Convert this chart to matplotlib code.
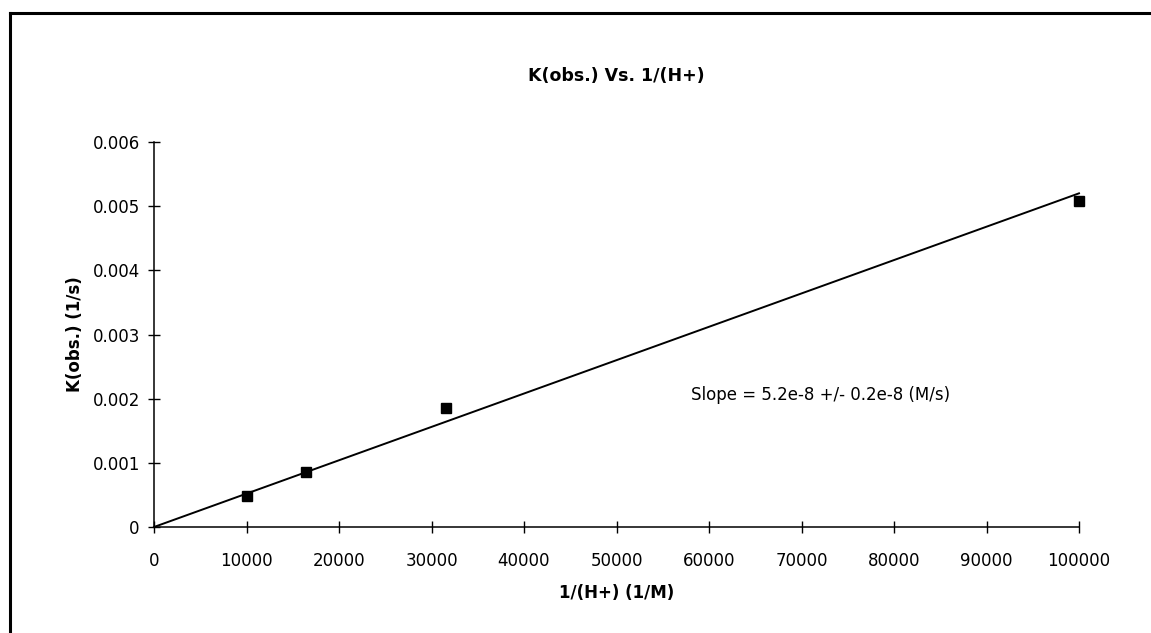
import matplotlib
matplotlib.use("Agg")
import matplotlib.pyplot as plt
from matplotlib.lines import Line2D

plt.rcParams['font.family'] = ['DejaVu Sans']

# Measured rate constants against inverse proton concentration
inv_h = [10000, 16450, 31600, 100000]
k_obs = [0.00049, 0.00086, 0.00186, 0.00508]

# Linear fit through the origin
slope = 5.2e-8
fit_x = [0, 100000]
fit_y = [slope * x for x in fit_x]

x_ticks = [0, 10000, 20000, 30000, 40000, 50000, 60000, 70000, 80000, 90000, 100000]
y_ticks = [0, 0.001, 0.002, 0.003, 0.004, 0.005, 0.006]
y_tick_labels = ['0', '0.001', '0.002', '0.003', '0.004', '0.005', '0.006']

W, H = 1151, 633
fig = plt.figure(figsize=(W / 100, H / 100), dpi=100)
fig.patch.set_facecolor('white')

# Page frame: top and left rules
fig.add_artist(Line2D([9.5 / W, 1.0], [1 - 13 / H, 1 - 13 / H], color='black', lw=2.2,
                      transform=fig.transFigure))
fig.add_artist(Line2D([9.5 / W, 9.5 / W], [0.0, 1 - 13 / H], color='black', lw=2.2,
                      transform=fig.transFigure))

ax = fig.add_axes([154 / W, 1 - 527 / H, (1079 - 154) / W, (527 - 142) / H])
ax.plot(fit_x, fit_y, color='black', lw=1.4, zorder=2, clip_on=False)
ax.plot(inv_h, k_obs, linestyle='none', marker='s', markersize=7.5, color='black',
        zorder=3, clip_on=False)

ax.set_xlim(0, 100000)
ax.set_ylim(0, 0.006)
ax.set_xticks(x_ticks)
ax.set_xticklabels([str(t) for t in x_ticks])
ax.set_yticks(y_ticks)
ax.set_yticklabels(y_tick_labels)

for side in ('top', 'right'):
    ax.spines[side].set_visible(False)
for side in ('left', 'bottom'):
    ax.spines[side].set_linewidth(1.1)

ax.tick_params(direction='inout', length=8.5, width=1.0, labelsize=12, pad=6)
ax.tick_params(axis='x', pad=14)

ax.set_title('K(obs.) Vs. 1/(H+)', fontsize=12.5, fontweight='bold', pad=44)
ax.set_xlabel('1/(H+) (1/M)', fontsize=12, fontweight='bold', labelpad=10)
ax.set_ylabel('K(obs.) (1/s)', fontsize=12, fontweight='bold', labelpad=6)

ax.text(58000, 0.00205, 'Slope = 5.2e-8 +/- 0.2e-8 (M/s)', fontsize=12,
        ha='left', va='center')

fig.savefig('out.png', dpi=100, facecolor='white')
